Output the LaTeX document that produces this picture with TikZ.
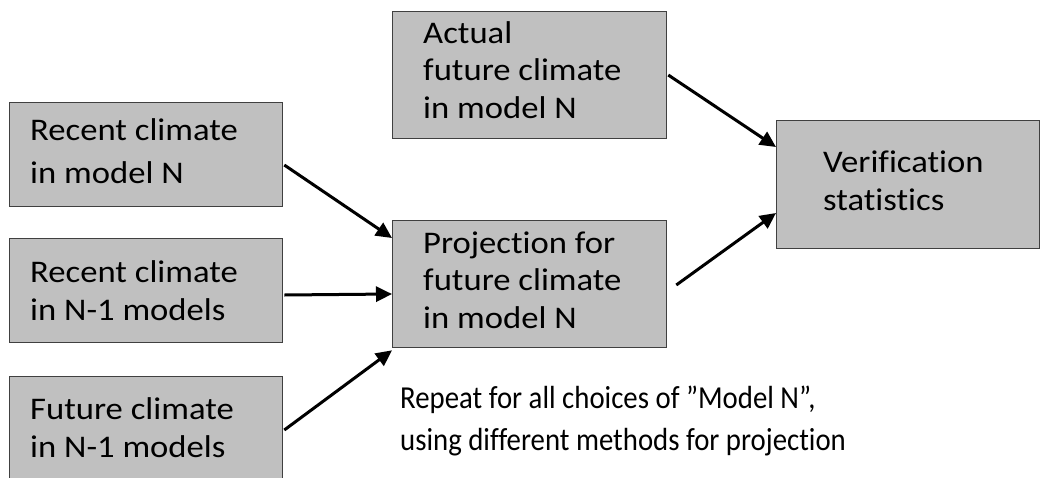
\documentclass[tikz,border=0pt]{standalone}
\usepackage{fontspec}
\setmainfont{Carlito}[Ligatures=NoCommon]
\newfontfamily\boxfont[FakeStretch=1.1,Ligatures=NoCommon]{Carlito}
\newfontfamily\notefont[FakeStretch=0.9,Ligatures=NoCommon]{Carlito}
\usetikzlibrary{arrows.meta,calc}
\definecolor{boxfill}{HTML}{C0C0C0}
\definecolor{boxline}{HTML}{404040}
\tikzset{
  box/.style={draw=boxline, line width=1.3pt, fill=boxfill, rectangle, inner sep=0pt, anchor=north west},
  lbl/.style={inner sep=0pt, anchor=base west, align=left, font=\boxfont\fontsize{31.5}{38}\selectfont},
  arr/.style={line width=3pt, -{Triangle[length=16pt,width=15pt]}}
}
\begin{document}
\begin{tikzpicture}[x=1pt,y=-1pt]
\clip (0,0) rectangle (1049,477);
\fill[white] (0,0) rectangle (1049,477);
% boxes
\node[box, minimum width=273pt, minimum height=104pt] (b1) at (9,102) {};
\node[box, minimum width=273pt, minimum height=104pt] (b2) at (9,238) {};
\node[box, minimum width=273pt, minimum height=110pt] (b3) at (9,376) {};
\node[box, minimum width=274pt, minimum height=127pt] (act) at (392,11) {};
\node[box, minimum width=274pt, minimum height=127pt] (proj) at (392,220) {};
\node[box, minimum width=263pt, minimum height=128pt] (ver) at (776,120) {};
% labels (anchored at the baseline of the last line)
\node[lbl, font=\boxfont\fontsize{31.5}{43}\selectfont] (t1) at (30,183) {Recent climate\\in model N};
\node[lbl] (t2) at (30,320) {Recent climate\\in N-1 models};
\node[lbl] (t3) at (30,457) {Future climate\\in N-1 models};
\node[lbl, font=\boxfont\fontsize{31.5}{37.5}\selectfont] (ta) at (423,118) {Actual\\future climate\\in model N};
\node[lbl, font=\boxfont\fontsize{31.5}{37.5}\selectfont] (tp) at (423,328) {Projection for\\future climate\\in model N};
\node[lbl] (tv) at (823,210) {Verification\\statistics};
\node[lbl, font=\notefont\fontsize{32}{42}\selectfont] (note) at (400,450) {Repeat for all choices of ”Model N”,\\using different methods for projection};
% connectors
\coordinate (s1) at ($(b1.north east)+(1,63)$);
\coordinate (e1) at ($(proj.north west)+(0,18)$);
\draw[arr] (s1) -- (e1);
\coordinate (s2) at ($(b2.north east)+(1,57)$);
\coordinate (e2) at ($(proj.north west)+(0,74)$);
\draw[arr] (s2) -- (e2);
\coordinate (s3) at ($(b3.north east)+(1,54)$);
\coordinate (e3) at ($(proj.south west)+(0,2)$);
\draw[arr] (s3) -- (e3);
\coordinate (s4) at ($(act.north east)+(1,64)$);
\coordinate (e4) at ($(ver.north west)+(0,27)$);
\draw[arr] (s4) -- (e4);
\coordinate (s5) at ($(proj.north east)+(9,65)$);
\coordinate (e5) at ($(ver.north west)+(0,93)$);
\draw[arr] (s5) -- (e5);
\end{tikzpicture}
\end{document}
